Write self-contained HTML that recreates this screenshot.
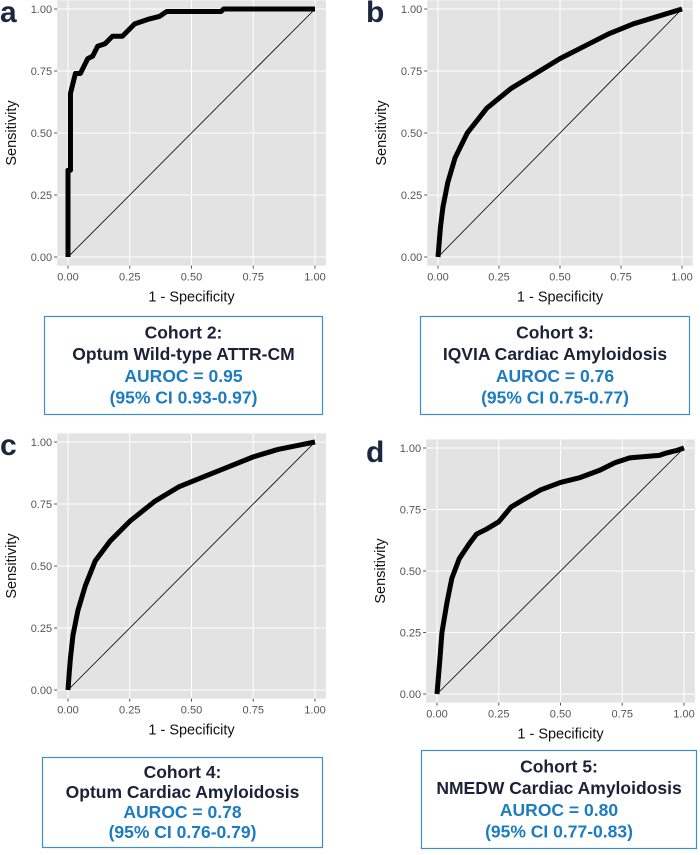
<!DOCTYPE html>
<html><head><meta charset="utf-8"><style>
body{margin:0;background:#fff;width:700px;height:850px;overflow:hidden;font-family:"Liberation Sans",sans-serif}
</style></head><body>
<svg id="fig" width="700" height="850" xmlns="http://www.w3.org/2000/svg"></svg>
<script>
const fprA=[0,0,0.01,0.01,0.02,0.03,0.05,0.07,0.08,0.10,0.12,0.15,0.18,0.22,0.25,0.27,0.33,0.37,0.40,0.62,0.63,1];
const tprA=[0,0.35,0.35,0.66,0.70,0.74,0.74,0.78,0.80,0.81,0.85,0.86,0.89,0.89,0.92,0.94,0.96,0.97,0.99,0.99,1,1];
const fprB=[0,0.005,0.01,0.02,0.04,0.07,0.12,0.2,0.3,0.4,0.5,0.6,0.7,0.8,0.9,1];
const tprB=[0,0.06,0.12,0.2,0.3,0.4,0.5,0.6,0.68,0.74,0.8,0.85,0.9,0.94,0.97,1];
const fprC=[0,0.005,0.01,0.02,0.04,0.07,0.11,0.17,0.25,0.35,0.45,0.55,0.65,0.75,0.85,0.95,1];
const tprC=[0,0.07,0.13,0.22,0.32,0.42,0.52,0.6,0.68,0.76,0.82,0.86,0.9,0.94,0.97,0.99,1];
const fprD=[0,0.005,0.01,0.02,0.04,0.06,0.09,0.13,0.16,0.2,0.25,0.3,0.35,0.42,0.5,0.58,0.66,0.72,0.78,0.9,0.93,0.97,1];
const tprD=[0,0.06,0.12,0.25,0.37,0.47,0.55,0.61,0.65,0.67,0.7,0.76,0.79,0.83,0.86,0.88,0.91,0.94,0.96,0.97,0.98,0.99,1];
const ticks=[0,0.25,0.5,0.75,1];
const tickLabels=["0.00","0.25","0.50","0.75","1.00"];
const panelLetters=["a","b","c","d"];
const titles=["Cohort 2:","Cohort 3:","Cohort 4:","Cohort 5:"];
const cohorts=["Optum Wild-type ATTR-CM","IQVIA Cardiac Amyloidosis","Optum Cardiac Amyloidosis","NMEDW Cardiac Amyloidosis"];
const aurocs=["AUROC = 0.95","AUROC = 0.76","AUROC = 0.78","AUROC = 0.80"];
const cis=["(95% CI 0.93-0.97)","(95% CI 0.75-0.77)","(95% CI 0.76-0.79)","(95% CI 0.77-0.83)"];
const series=[[fprA,tprA],[fprB,tprB],[fprC,tprC],[fprD,tprD]];
const layout=[
 {x0:68,x1:315,y0:257,y1:9,bx:44,by:316,bw:279,bh:99,lx:0,ly:22},
 {x0:438,x1:682,y0:257,y1:9,bx:420,by:316,bw:270,bh:99,lx:366,ly:22},
 {x0:68,x1:315,y0:690,y1:442,bx:42,by:757,bw:281,bh:91,lx:0,ly:455},
 {x0:437,x1:684,y0:694,y1:448,bx:421,by:750,bw:276,bh:99,lx:366,ly:462}];
const S=document.getElementById('fig');const NS="http://www.w3.org/2000/svg";
function mk(t,a,p){const e=document.createElementNS(NS,t);for(const k in a)e.setAttribute(k,a[k]);(p||S).appendChild(e);return e;}
layout.forEach((L,i)=>{
 const g=mk('g',{});
 
 
 const sx=v=>L.x0+v*(L.x1-L.x0), sy=v=>L.y0+v*(L.y1-L.y0);
 const ex=(L.x1-L.x0)*0.04, ey=(L.y0-L.y1)*0.035;
 const bg=mk('rect',{x:L.x0-ex-1,y:L.y1-ey,width:L.x1-L.x0+2*ex+2,height:L.y0-L.y1+2*ey,fill:'#e3e3e3'},g);
 
 
 ticks.forEach((t,k)=>{
  mk('line',{x1:sx(t),x2:sx(t),y1:L.y1-ey,y2:L.y0+ey,stroke:'#fff','stroke-width':1},g);
  mk('line',{x1:L.x0-ex-1,x2:L.x1+ex+1,y1:sy(t),y2:sy(t),stroke:'#fff','stroke-width':1},g);
  mk('line',{x1:sx(t),x2:sx(t),y1:L.y0+ey,y2:L.y0+ey+3,stroke:'#555'},g);
  mk('line',{x1:L.x0-ex-4,x2:L.x0-ex-1,y1:sy(t),y2:sy(t),stroke:'#555'},g);
  const xl=mk('text',{x:sx(t),y:L.y0+ey+15,'text-anchor':'middle','font-size':11,fill:'#555'},g);xl.textContent=tickLabels[k];
  
  
  const yl=mk('text',{x:L.x0-ex-6,y:sy(t)+4,'text-anchor':'end','font-size':11,fill:'#555'},g);yl.textContent=tickLabels[k];
  
  
 });
 mk('line',{x1:sx(0),y1:sy(0),x2:sx(1),y2:sy(1),stroke:'#000','stroke-width':0.8},g);
 const [fx,ty]=series[i];
 const pts=fx.map((v,k)=>sx(v)+','+sy(ty[k])).join(' ');
 const pl=mk('polyline',{points:pts,fill:'none',stroke:'#000','stroke-width':5,'stroke-linejoin':'round'},g);
 
 
 const xt=mk('text',{x:(L.x0+L.x1)/2,y:L.y0+ey+36,'text-anchor':'middle','font-size':14.5,fill:'#111'},g);xt.textContent='1 - Specificity';
 
 
 const yx=L.x0-ex-42, yy=(L.y0+L.y1)/2;
 const yt=mk('text',{x:yx,y:yy,'text-anchor':'middle','font-size':14.5,fill:'#111',transform:`rotate(-90 ${yx} ${yy})`},g);yt.textContent='Sensitivity';
 
 
 const lt=mk('text',{x:L.lx,y:L.ly,'font-size':30,'font-weight':'bold',fill:'#1b2640'},g);lt.textContent=panelLetters[i];
 
 
 const bx=mk('rect',{x:L.bx+0.5,y:L.by+0.5,width:L.bw-1,height:L.bh-1,fill:'#fff',stroke:'#3d8fc7','stroke-width':1.2},g);
 
 
 const cx=L.bx+L.bw/2, st=L.bh/4.55;
 [[titles[i],'#1b2238'],[cohorts[i],'#1b2238'],[aurocs[i],'#1d7cc1'],[cis[i],'#1d7cc1']].forEach((r,k)=>{
  const t=mk('text',{x:cx,y:L.by+st*0.75+k*st+6,'text-anchor':'middle','font-size':17.5,'font-weight':'bold',fill:r[1]},g);t.textContent=r[0];
  
  
 });
});
</script>
</body></html>
